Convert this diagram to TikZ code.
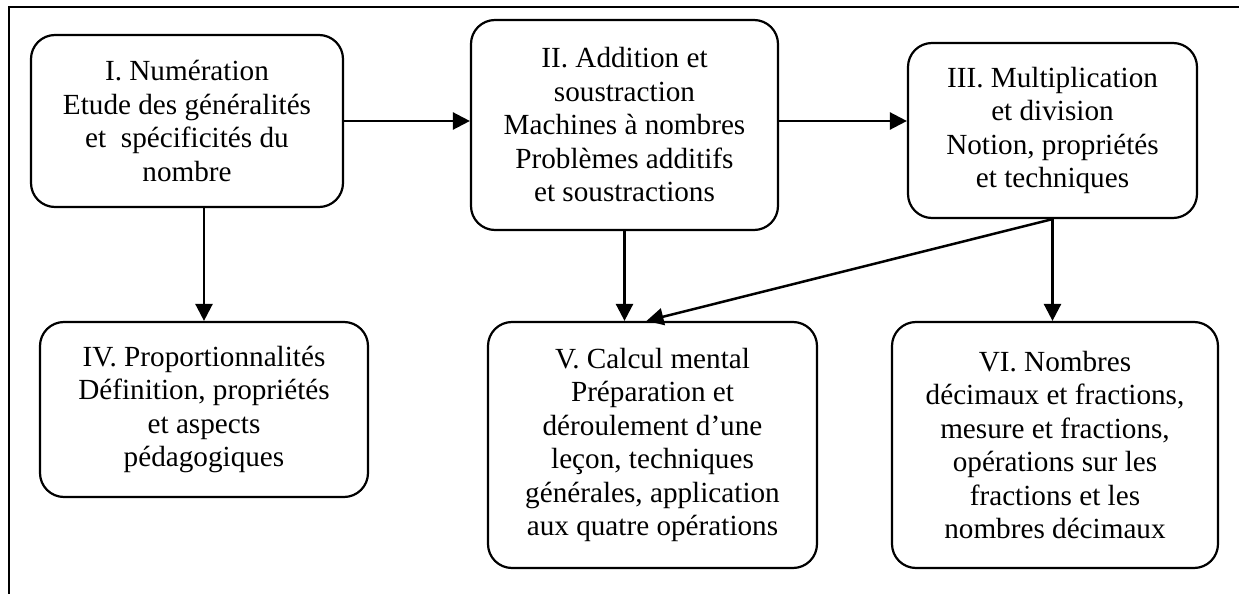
\documentclass[tikz,border=0pt]{standalone}
\usepackage{fontspec}
\setmainfont{Liberation Serif}
\usetikzlibrary{arrows.meta}
\begin{document}
\begin{tikzpicture}[x=0.5pt, y=-0.5pt,
    every node/.style={rectangle, rounded corners=12pt, draw, line width=1.1pt, align=center, inner sep=0pt, font=\fontsize{14.6}{16.75}\selectfont},
    fleche/.style={line width=1.25pt, -{Triangle[length=8.5pt,width=8.5pt]}}]
            \useasboundingbox (0,0) rectangle (1239,594);
            % Cadre
            \draw[line width=1.3pt] (9,594) -- (9,7) -- (1239,7);

            % Niveau supérieur
            \node (I) at (187,121) [minimum width=156pt, minimum height=86pt] {I. Numération\\Etude des généralités\\et\ \ spécificités du\\nombre};
            \node (II) at (624.5,125) [minimum width=153.5pt, minimum height=105pt] {II. Addition et\\soustraction\\Machines à nombres\\Problèmes additifs\\et soustractions};
            \node (III) at (1052.5,130.5) [minimum width=144.5pt, minimum height=87.5pt] {III. Multiplication\\et division\\Notion, propriétés\\et techniques};

            % Niveau inférieur
            \node (IV) at (204,409.5) [minimum width=164pt, minimum height=87.5pt] {IV. Proportionnalités\\Définition, propriétés\\et aspects\\pédagogiques};
            \node (V) at (652.5,445) [minimum width=164.5pt, minimum height=123pt] {V. Calcul mental\\Préparation et\\déroulement d’une\\leçon, techniques\\générales, application\\aux quatre opérations};
            \node (VI) at (1055,445) [minimum width=163pt, minimum height=123pt] {VI. Nombres\\décimaux et fractions,\\mesure et fractions,\\opérations sur les\\fractions et les\\nombres décimaux};

            % Liaisons
            \draw[fleche] (I.east) -- (I.east -| II.west);
            \draw[fleche] (II.east |- I.east) -- (III.west |- I.east);
            \draw[fleche] (IV.north |- I.south) -- (IV.north);
            \draw[fleche] (II.south) -- (II.south |- V.north);
            \draw[fleche] (III.south) -- (III.south |- VI.north);
            \draw[fleche] (III.south) -- ([xshift=-3pt]V.north);
        \end{tikzpicture}
\end{document}
